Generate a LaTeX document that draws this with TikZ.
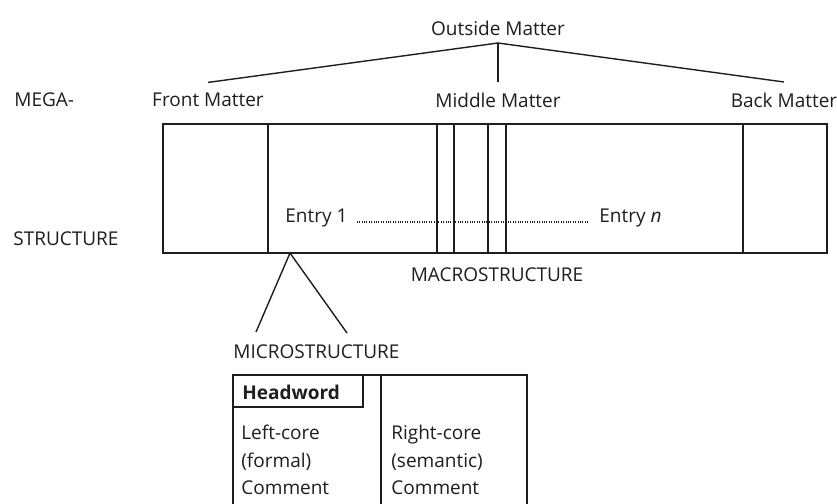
\documentclass[tikz,border=0pt]{standalone}
\usepackage{fontspec}
\setmainfont{Open Sans}
\usepackage{tikz}
\usetikzlibrary{arrows.meta}
\definecolor{inkgray}{RGB}{30, 30, 30}

\begin{document}
\begin{tikzpicture}[x=0.5pt, y=-0.5pt, line width=0.7pt, draw=inkgray,
    lbl/.style={font=\fontsize{9.5}{13.75}\selectfont, text=inkgray},
    matter/.style={lbl, inner sep=5pt}]
    \useasboundingbox (0,0) rectangle (837,504);
    % outside matter tree
    \node[lbl] (outside) at (498,28) {Outside Matter};
    \coordinate (apex) at (498,43);
    \node[matter] (front) at (208,100) {Front Matter};
    \node[matter] (middle) at (498,100) {Middle Matter};
    \node[matter] (back) at (784,100) {Back Matter};
    \draw (front.north) -- (apex) -- (back.north);
    \draw (apex) -- (middle.north);
    \node[lbl, anchor=west] (mega) at (7,100) {MEGA-};
    \node[lbl, anchor=west] (struct) at (6,239) {STRUCTURE};
    % macrostructure box
    \draw (163,124) rectangle (827,253);
    \foreach \x in {268,437,454,488,506,743}
      \draw (\x,124) -- (\x,253);
    \node[lbl, anchor=base west] (entry1) at (278,222) {Entry 1};
    \node[lbl, anchor=base west] (entryn) at (592,222) {Entry \textit{n}};
    \draw[dash pattern=on 0.5pt off 0.7pt, line width=0.7pt, shorten <=1pt, shorten >=1.5pt]
      (entry1.base east) -- (entryn.base west);
    \node[lbl] (macro) at (497,275) {MACROSTRUCTURE};
    % microstructure
    \coordinate (micapex) at (290,253);
    \coordinate (micleft) at (256,332);
    \coordinate (micright) at (347,333);
    \draw (micleft) -- (micapex) -- (micright);
    \node[lbl, anchor=west] (micro) at (226,352) {MICROSTRUCTURE};
    \draw (233,504) |- (527,375) -- (527,504);
    \draw (381,375) -- (381,504);
    \draw (233,407) -| (363,375);
    \node[lbl, anchor=west, font=\fontsize{9.5}{13.75}\selectfont\bfseries] (headword) at (235,392) {Headword};
    \node[lbl, anchor=north west, align=left] (leftcore) at (234,418) {Left-core\\(formal)\\Comment};
    \node[lbl, anchor=north west, align=left] (rightcore) at (384,418) {Right-core\\(semantic)\\Comment};
  \end{tikzpicture}
\end{document}
